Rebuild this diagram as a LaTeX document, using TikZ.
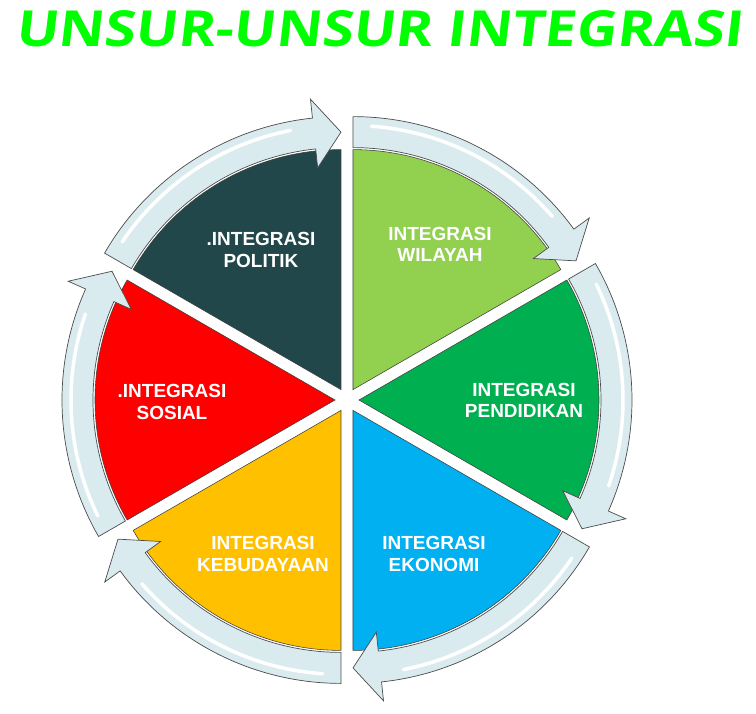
\documentclass[tikz,border=0pt]{standalone}
\usepackage{fontspec}
\setmainfont{Liberation Sans}
\newfontfamily\titlefont{Open Sans}
\definecolor{titlegreen}{HTML}{00FF00}
\definecolor{politik}{HTML}{22474A}
\definecolor{wilayah}{HTML}{92D050}
\definecolor{pendidikan}{HTML}{00B050}
\definecolor{ekonomi}{HTML}{00B0F0}
\definecolor{kebudayaan}{HTML}{FFC000}
\definecolor{sosial}{HTML}{FF0000}
\definecolor{ringfill}{HTML}{DAEBEF}
\tikzset{
  segment/.style={draw=black!75,line width=0.4pt},
  ringarrow/.style={draw=black!70,line width=0.5pt,fill=ringfill},
  gloss/.style={white,line width=2.5pt,line cap=round},
  segtext/.style={text=white,align=center,font=\bfseries\fontsize{13.5}{15}\selectfont}
}
\begin{document}
\begin{tikzpicture}[x=0.025cm,y=0.025cm]
    \useasboundingbox (-347,-313) rectangle (409,400);
    \coordinate (center) at (0,0);
    \node[anchor=south west,inner sep=0,text=titlegreen,xslant=0.12,transform shape] (title) at (-332,353) {\resizebox{18.15cm}{0.9cm}{\titlefont\bfseries UNSUR-UNSUR INTEGRASI}};

    % politik
    \begin{scope}[shift={(120:12)}]
        \draw[segment,fill=politik] (0,0) -- (150:240) arc[start angle=150,end angle=90,radius=240] -- cycle;
        \draw[ringarrow] (150:242) -- (150:273) arc[start angle=150,end angle=96,radius=273] -- (96:292) -- (90:257.5) -- (96:223) -- (96:242) arc[start angle=96,end angle=150,radius=242] -- cycle;
        \draw[gloss] (146:264) arc[start angle=146,end angle=101,radius=264];
    \end{scope}
    % wilayah
    \begin{scope}[shift={(60:12)}]
        \draw[segment,fill=wilayah] (0,0) -- (90:240) arc[start angle=90,end angle=30,radius=240] -- cycle;
        \draw[ringarrow] (90:242) -- (90:273) arc[start angle=90,end angle=36,radius=273] -- (36:292) -- (30:257.5) -- (36:223) -- (36:242) arc[start angle=36,end angle=90,radius=242] -- cycle;
        \draw[gloss] (86:264) arc[start angle=86,end angle=41,radius=264];
    \end{scope}
    % pendidikan
    \begin{scope}[shift={(0:12)}]
        \draw[segment,fill=pendidikan] (0,0) -- (30:240) arc[start angle=30,end angle=-30,radius=240] -- cycle;
        \draw[ringarrow] (30:242) -- (30:273) arc[start angle=30,end angle=-24,radius=273] -- (-24:292) -- (-30:257.5) -- (-24:223) -- (-24:242) arc[start angle=-24,end angle=30,radius=242] -- cycle;
        \draw[gloss] (26:264) arc[start angle=26,end angle=-19,radius=264];
    \end{scope}
    % ekonomi
    \begin{scope}[shift={(-60:12)}]
        \draw[segment,fill=ekonomi] (0,0) -- (-30:240) arc[start angle=-30,end angle=-90,radius=240] -- cycle;
        \draw[ringarrow] (-30:242) -- (-30:273) arc[start angle=-30,end angle=-84,radius=273] -- (-84:292) -- (-90:257.5) -- (-84:223) -- (-84:242) arc[start angle=-84,end angle=-30,radius=242] -- cycle;
        \draw[gloss] (-34:264) arc[start angle=-34,end angle=-79,radius=264];
    \end{scope}
    % kebudayaan
    \begin{scope}[shift={(-120:12)}]
        \draw[segment,fill=kebudayaan] (0,0) -- (-90:240) arc[start angle=-90,end angle=-150,radius=240] -- cycle;
        \draw[ringarrow] (-90:242) -- (-90:273) arc[start angle=-90,end angle=-144,radius=273] -- (-144:292) -- (-150:257.5) -- (-144:223) -- (-144:242) arc[start angle=-144,end angle=-90,radius=242] -- cycle;
        \draw[gloss] (-94:264) arc[start angle=-94,end angle=-139,radius=264];
    \end{scope}
    % sosial
    \begin{scope}[shift={(180:12)}]
        \draw[segment,fill=sosial] (0,0) -- (210:240) arc[start angle=210,end angle=150,radius=240] -- cycle;
        \draw[ringarrow] (210:242) -- (210:273) arc[start angle=210,end angle=156,radius=273] -- (156:292) -- (150:257.5) -- (156:223) -- (156:242) arc[start angle=156,end angle=210,radius=242] -- cycle;
        \draw[gloss] (206:264) arc[start angle=206,end angle=161,radius=264];
    \end{scope}

    \node[segtext] (politiktext) at (-86,150) {.INTEGRASI\\POLITIK};
    \node[segtext] (wilayahtext) at (93,156) {INTEGRASI\\WILAYAH};
    \node[segtext] (pendidikantext) at (177,0) {INTEGRASI\\PENDIDIKAN};
    \node[segtext] (ekonomitext) at (87,-154) {INTEGRASI\\EKONOMI};
    \node[segtext] (kebudayaantext) at (-84,-154) {INTEGRASI\\KEBUDAYAAN};
    \node[segtext] (sosialtext) at (-175,-2) {.INTEGRASI\\SOSIAL};
\end{tikzpicture}
\end{document}
